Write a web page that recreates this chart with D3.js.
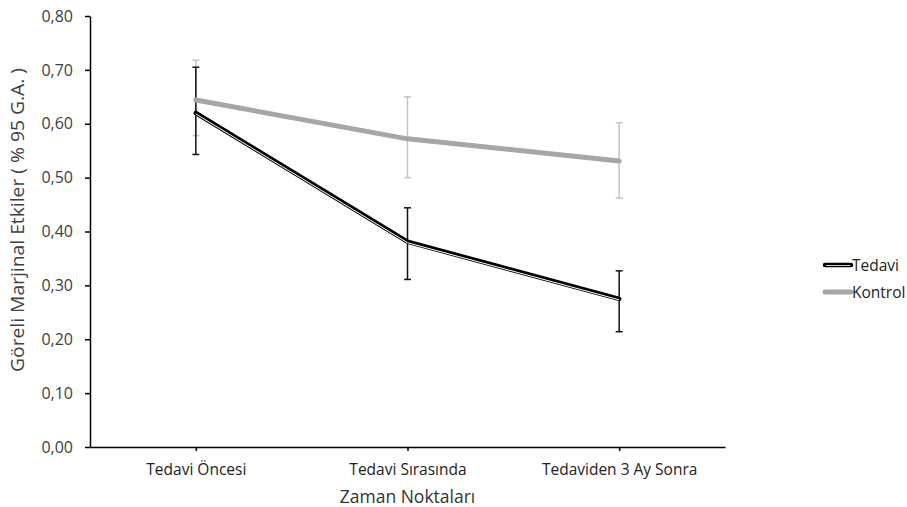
<!DOCTYPE html>
<html>
<head>
<meta charset="utf-8">
<script src="https://cdn.jsdelivr.net/npm/d3@7"></script>
<style>
  body { margin: 0; background: #fff; }
  svg text { font-family: "Open Sans", sans-serif; }
</style>
</head>
<body>
<svg id="chart" width="907" height="507"></svg>
<script>
// data
const categories = ["Tedavi Öncesi", "Tedavi Sırasında", "Tedaviden 3 Ay Sonra"];
const tedavi = [0.620, 0.381, 0.275];
const tedaviLow = [0.543, 0.311, 0.214];
const tedaviHigh = [0.705, 0.444, 0.327];
const kontrol = [0.644, 0.572, 0.531];
const kontrolLow = [0.578, 0.500, 0.462];
const kontrolHigh = [0.718, 0.650, 0.602];
const yTicks = [0, 0.1, 0.2, 0.3, 0.4, 0.5, 0.6, 0.7, 0.8];

const svg = d3.select("#chart");
const margin = { left: 90, top: 16, right: 182, bottom: 60 };
const plotRight = 907 - margin.right;
const plotBottom = 507 - margin.bottom;

const x = d3.scalePoint().domain(categories).range([margin.left, plotRight]).padding(0.5);
const y = d3.scaleLinear().domain([0, 0.8]).range([plotBottom, margin.top]);
const fmt = v => d3.format(".2f")(v).replace(".", ",");

// y axis
const yAxis = svg.append("g")
    .attr("transform", `translate(${margin.left},0)`)
    .call(d3.axisLeft(y).tickValues(yTicks).tickFormat(fmt).tickSize(5).tickSizeOuter(0));
yAxis.attr("font-family", null).attr("font-size", null);
yAxis.select(".domain").attr("stroke", "#000").attr("stroke-width", 1.5);
yAxis.selectAll(".tick line").attr("stroke", "#000").attr("stroke-width", 1.5);
yAxis.selectAll(".tick text").attr("x", -17).style("font-size", "16px").attr("fill", "#404040");

// x axis
const xAxis = svg.append("g")
    .attr("transform", `translate(0,${plotBottom})`)
    .call(d3.axisBottom(x).tickSize(4).tickSizeOuter(0));
xAxis.attr("font-family", null).attr("font-size", null);
xAxis.select(".domain").attr("stroke", "#000").attr("stroke-width", 1.5);
xAxis.selectAll(".tick line").attr("stroke", "#000").attr("stroke-width", 1.5);
xAxis.selectAll(".tick text").attr("y", 17).style("font-size", "15.5px").attr("fill", "#222");

// axis titles
svg.append("text")
    .attr("transform", `translate(24,220) rotate(-90)`)
    .attr("text-anchor", "middle")
    .style("font-size", "17.5px")
    .attr("textLength", 304)
    .attr("lengthAdjust", "spacingAndGlyphs")
    .attr("fill", "#404040")
    .text("Göreli Marjinal Etkiler ( % 95 G.A. )");

svg.append("text")
    .attr("x", (margin.left + plotRight) / 2)
    .attr("y", 503)
    .attr("text-anchor", "middle")
    .style("font-size", "17.5px")
    .attr("fill", "#333")
    .text("Zaman Noktaları");

// error bars
function errorBars(low, high, color) {
    const g = svg.append("g").attr("stroke", color).attr("stroke-width", 1.5);
    categories.forEach((c, i) => {
        const cx = x(c);
        g.append("line").attr("x1", cx).attr("x2", cx).attr("y1", y(low[i])).attr("y2", y(high[i]));
        [low[i], high[i]].forEach(v => {
            g.append("line").attr("x1", cx - 3.5).attr("x2", cx + 3.5).attr("y1", y(v)).attr("y2", y(v));
        });
    });
}
errorBars(kontrolLow, kontrolHigh, "#c4c4c4");
errorBars(tedaviLow, tedaviHigh, "#111");

const line = d3.line().x((d, i) => x(categories[i])).y(d => y(d));

// Kontrol series
svg.append("path")
    .datum(kontrol)
    .attr("d", line)
    .attr("fill", "none")
    .attr("stroke", "#a6a6a6")
    .attr("stroke-width", 5)
    .attr("stroke-linecap", "round");

// Tedavi series: black with thin white inner line
svg.append("path")
    .datum(tedavi)
    .attr("d", line)
    .attr("fill", "none")
    .attr("stroke", "#000")
    .attr("stroke-width", 4.5)
    .attr("stroke-linecap", "round");
svg.append("path")
    .datum(tedavi)
    .attr("d", line)
    .attr("transform", "translate(0,1)")
    .attr("fill", "none")
    .attr("stroke", "#fff")
    .attr("stroke-width", 1);

// legend
const legend = [
    { name: "Tedavi", color: "#000", inner: true },
    { name: "Kontrol", color: "#a6a6a6", inner: false }
];
legend.forEach((d, i) => {
    const ly = 265 + i * 27;
    svg.append("line")
        .attr("x1", 825).attr("x2", 851).attr("y1", ly).attr("y2", ly)
        .attr("stroke", d.color).attr("stroke-width", d.inner ? 4.5 : 5)
        .attr("stroke-linecap", "round");
    if (d.inner) {
        svg.append("line")
            .attr("x1", 826).attr("x2", 850).attr("y1", ly + 0.5).attr("y2", ly + 0.5)
            .attr("stroke", "#fff").attr("stroke-width", 0.8);
    }
    svg.append("text")
        .attr("x", 852).attr("y", ly + 5.5)
        .style("font-size", "15.5px")
        .attr("fill", "#222")
        .text(d.name);
});
</script>
</body>
</html>
